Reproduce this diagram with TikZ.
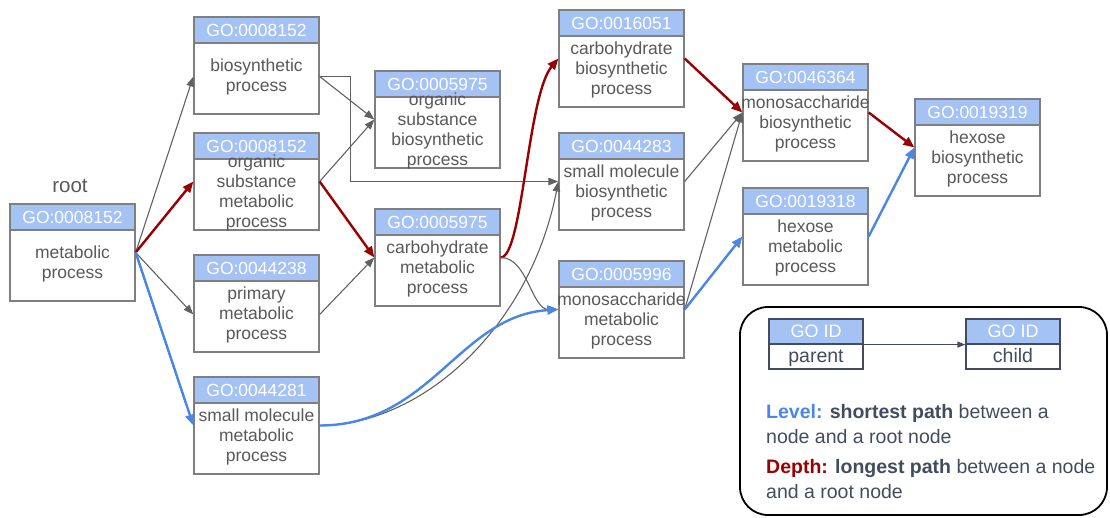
\documentclass[tikz,border=0pt]{standalone}
\usepackage{fontspec}
\setmainfont{Liberation Sans}
\usetikzlibrary{arrows.meta,calc}

\definecolor{headblue}{HTML}{A4C2F4}
\definecolor{boxgray}{HTML}{7F7F7F}
\definecolor{bodygray}{HTML}{595959}
\definecolor{edgegray}{HTML}{616161}
\definecolor{deepred}{HTML}{990000}
\definecolor{lvlblue}{HTML}{4A86E8}
\definecolor{slate}{HTML}{434C5E}

\tikzset{
  gobody/.style={rectangle, draw=boxgray, fill=white, line width=1.3pt,
    minimum width=125pt, minimum height=97pt, inner sep=0pt},
  gohead/.style={rectangle, draw=boxgray, fill=headblue, line width=1.3pt,
    minimum width=125pt, minimum height=26pt, inner sep=0pt, text=white,
    font=\fontsize{17.5}{20}\selectfont},
  golabel/.style={align=center, text=bodygray, inner sep=0pt,
    font=\fontsize{17.5}{20}\selectfont},
  gedge/.style={draw=edgegray, line width=1.1pt,
    -{Triangle[length=10pt,width=7.5pt]}},
  redge/.style={draw=deepred, line width=2.4pt,
    -{Triangle[length=11pt,width=9pt]}},
  bedge/.style={draw=lvlblue, line width=2.4pt,
    -{Triangle[length=11pt,width=9pt]}},
  legbody/.style={rectangle, draw=slate, fill=white, line width=1.2pt,
    minimum width=94pt, minimum height=50pt, inner sep=0pt},
  leghead/.style={rectangle, draw=slate, fill=headblue, line width=1.2pt,
    minimum width=94pt, minimum height=25pt, inner sep=0pt, text=white,
    font=\fontsize{18}{20}\selectfont},
  leglabel/.style={text=slate, inner sep=0pt, text height=14pt, text depth=4pt,
    font=\fontsize{19.5}{22}\selectfont},
  legtext/.style={anchor=base west, text=slate, inner sep=0pt,
    font=\fontsize{19.5}{24}\selectfont},
}

% one GO term box: name, centre, identifier, description
\newcommand\goterm[4]{%
  \node[gobody] (#1) at (#2) {};
  \node[gohead, anchor=north] (#1-id) at (#1.north) {#3};
  \node[golabel] (#1-txt) at ($(#1-id.south)!0.5!(#1.south)+(0,-2)$) {#4};
}

\begin{document}
\begin{tikzpicture}[x=1pt,y=-1pt]
\useasboundingbox (0,0) rectangle (1110,518);

% GO terms
\node[text=bodygray, inner sep=0pt, font=\fontsize{20.5}{24}\selectfont] (rootlbl) at (70,186) {root};
\goterm{root}{72.5,252.5}{GO:0008152}{metabolic\\process}
\goterm{bio}{256.5,65.5}{GO:0008152}{biosynthetic\\process}
\goterm{osm}{256.5,181.5}{GO:0008152}{organic\\substance\\metabolic\\process}
\goterm{prim}{256.5,303.5}{GO:0044238}{primary\\metabolic\\process}
\goterm{smm}{256.5,425.5}{GO:0044281}{small molecule\\metabolic\\process}
\goterm{osb}{437.5,119.5}{GO:0005975}{organic\\substance\\biosynthetic\\process}
\goterm{cm}{437.5,257.5}{GO:0005975}{carbohydrate\\metabolic\\process}
\goterm{cb}{621.5,58.5}{GO:0016051}{carbohydrate\\biosynthetic\\process}
\goterm{smb}{621.5,181.5}{GO:0044283}{small molecule\\biosynthetic\\process}
\goterm{mm}{621.5,309.5}{GO:0005996}{monosaccharide\\metabolic\\process}
\goterm{mb}{805.5,112.5}{GO:0046364}{monosaccharide\\biosynthetic\\process}
\goterm{hm}{805.5,236.5}{GO:0019318}{hexose\\metabolic\\process}
\goterm{hb}{977.5,147.5}{GO:0019319}{hexose\\biosynthetic\\process}

% parent -> child relations
\draw[gedge] (root.east) -- ([yshift=-11pt]bio.west);
\draw[redge] (root.east) -- (osm.west);
\draw[gedge] (root.east) -- ([yshift=-11pt]prim.west);
\draw[bedge] (root.east) -- (smm.west);
\draw[gedge] ([yshift=-11pt]bio.east) -- (osb.west);
\draw[gedge] ([yshift=-11pt]bio.east) -- ++(31,0) |- (smb.west);
\draw[gedge] (osm.east) -- (osb.west);
\draw[redge] (osm.east) -- (cm.west);
\draw[gedge] ([yshift=-11pt]prim.east) -- (cm.west);
\draw[redge] (cm.east) .. controls +(22,0) and +(-31,37) .. (cb.west);
\draw[gedge] (cm.east) .. controls +(27,0) and +(-27,0) .. (mm.west);
\draw[gedge] (smm.east) .. controls +(101,0) and +(-29,148) .. (smb.west);
\draw[bedge] (smm.east) .. controls +(111,0) and +(-99,6) .. (mm.west);
\draw[redge] (cb.east) -- (mb.west);
\draw[gedge] (smb.east) -- (mb.west);
\draw[gedge] (mm.east) -- (mb.west);
\draw[bedge] (mm.east) -- (hm.west);
\draw[redge] (mb.east) -- (hb.west);
\draw[bedge] (hm.east) -- (hb.west);

% legend
\node[draw=black, line width=1.8pt, rounded corners=28pt, minimum width=367pt,
  minimum height=208pt, inner sep=0pt] (legend) at (923.5,411) {};
\node[legbody] (par) at (816,344) {};
\node[leghead, anchor=north] (par-id) at (par.north) {GO ID};
\node[leglabel] (par-txt) at ($(par-id.south)!0.5!(par.south)$) {parent};
\node[legbody] (chi) at (1013,344) {};
\node[leghead, anchor=north] (chi-id) at (chi.north) {GO ID};
\node[leglabel] (chi-txt) at ($(chi-id.south)!0.5!(chi.south)$) {child};
\draw[draw=slate, line width=1.2pt, -{Triangle[length=8pt,width=6pt]}]
  (par-id.south east) -- (chi-id.south west);

\node[legtext] (lvl1) at (766,418) {\textcolor{lvlblue}{\bfseries Level:} \textbf{shortest path} between a};
\node[legtext] (lvl2) at (766,443) {node and a root node};
\node[legtext] (dep1) at (766,473) {\textcolor{deepred}{\bfseries Depth:} \textbf{longest path} between a node};
\node[legtext] (dep2) at (766,498) {and a root node};
\end{tikzpicture}
\end{document}
